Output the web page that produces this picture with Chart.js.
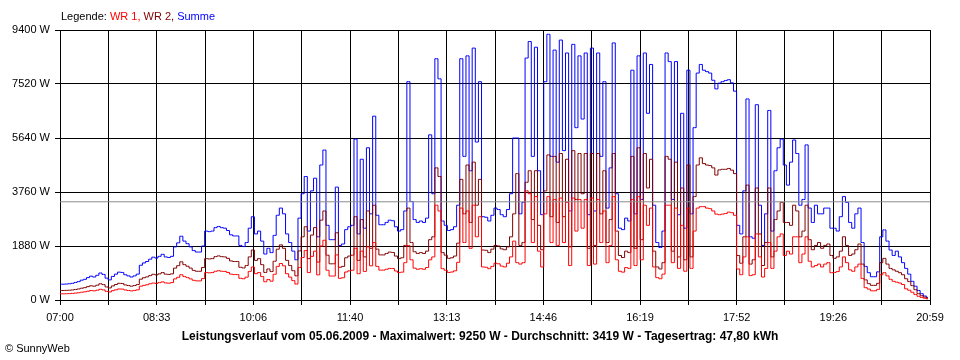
<!DOCTYPE html>
<html><head><meta charset="utf-8">
<script src="https://cdn.jsdelivr.net/npm/chart.js@4.4.1/dist/chart.umd.min.js"></script>
<style>html,body{margin:0;padding:0;background:#fff;}#wrap{width:960px;height:360px;position:relative;}</style>
</head><body><div id="wrap"><canvas id="c" width="960" height="360"></canvas></div>
<script>
// time axis: samples every 3 minutes starting 07:00, day span 07:00-20:59 (839 min)
const STEP_MINUTES = 3;
const DAY_MINUTES = 839;
const timeLabels = ['07:00','08:33','10:06','11:40','13:13','14:46','16:19','17:52','19:26','20:59'];
const yTicks = [0,1880,3760,5640,7520,9400];
const average = 3419;

const summe = [
550,550,555,565,580,610,640,690,720,780,
830,800,860,940,890,760,700,820,900,970,
960,880,840,800,840,900,1210,1290,1340,1420,
1490,1460,1520,1590,1500,1480,1520,1850,1990,2220,
2050,1960,1850,1720,1670,1670,1880,2400,2380,2400,
2520,2560,2520,2500,2420,2270,2230,2230,1900,1860,
2000,2500,2900,2300,2400,2050,1600,1800,1650,2250,
2950,3200,3000,2300,2000,1700,1400,2850,3700,4300,
2400,3800,4240,2200,4700,5220,2600,2100,2100,3930,
1900,1950,2450,2550,2600,5600,2300,4900,2500,5300,
3000,6400,2950,2620,2620,2700,2780,2760,2550,2400,
2450,3100,7600,3430,2800,2700,2750,2700,2850,5750,
3700,8400,7700,2750,2600,2420,2450,2550,3300,8400,
5000,8500,4500,8770,5500,7600,2900,2880,2750,2950,
3200,3150,2970,2900,3150,3700,5640,5640,3000,3400,
8424,9000,5000,8800,4500,2970,7600,9250,5000,8700,
4800,9050,5200,8600,3100,8900,6000,8500,6300,8600,
2970,8770,3100,8600,5000,7600,3200,4600,8950,3700,
2500,2450,2850,2750,8000,3000,8500,3500,8600,6500,
8200,3300,2000,1830,2400,8600,8300,3500,8300,2970,
6500,2500,8000,3000,6000,7900,8200,8000,7950,7900,
7650,7350,7550,7600,7640,7670,7560,7270,2600,2300,
3800,7000,2200,2150,6800,3300,1900,3000,6600,2400,
4500,5300,5600,4700,4000,4800,5570,5100,3300,3500,
5400,3200,2700,3300,3000,3000,3200,3200,2500,2500,
2400,2900,3600,3400,2700,2500,3000,3200,2000,1170,
950,810,810,980,2200,2440,2050,1740,1550,1700,
1500,1300,1100,900,650,480,330,220,140,90
];

const wr2 = [
330,330,335,340,350,365,385,410,430,465,
495,480,515,565,535,455,420,490,540,580,
575,525,505,480,505,540,725,775,805,850,
895,875,910,955,900,890,910,1110,1195,1330,
1230,1175,1110,1030,1000,1000,1130,1440,1430,1440,
1510,1535,1510,1500,1450,1360,1340,1340,1140,1115,
1200,1500,1740,1380,1440,1230,960,1080,990,1350,
1770,1920,1800,1380,1200,1020,840,1710,2200,2550,
1440,2260,2520,1320,2780,3100,1560,1260,1260,2340,
1140,1170,1470,1530,1560,2900,1380,2800,1500,3100,
1800,3300,1770,1570,1570,1620,1670,1655,1530,1440,
1470,1900,3200,2000,1680,1620,1650,1620,1700,2100,
2200,4600,4300,1650,1560,1450,1470,1530,1980,4200,
3000,4700,2700,4800,3300,4200,1740,1730,1650,1770,
1900,1880,1780,1750,1850,2200,3000,4400,1900,2000,
4100,4500,2800,4500,2600,1750,3800,5050,2900,5000,
2700,5100,2900,4900,1850,5200,3500,5100,3700,5100,
1800,5100,1900,5100,3000,4500,2000,2800,5100,2400,
1550,1480,1700,1650,5000,1800,5300,2100,5100,3900,
4900,1700,1150,1080,1300,5000,4900,1700,4800,1500,
3900,1400,4700,1500,3600,4700,4950,4750,4700,4680,
4600,4350,4530,4550,4550,4580,4520,4400,1550,1280,
2200,4000,1250,1400,3900,2300,1200,2000,3900,1500,
2800,3100,3400,2700,2700,2600,3300,3100,2200,2400,
3300,2100,1750,1900,2000,1800,1900,1950,1550,1450,
1500,1700,2200,1900,1550,1600,1750,1950,1250,700,
570,510,510,580,1300,1450,1250,1100,1050,1000,
950,880,740,640,500,360,220,150,100,60
];

const wr1 = [
215,215,218,222,228,240,252,270,285,305,
330,318,340,372,352,300,278,325,355,385,
380,350,332,318,332,355,480,510,530,565,
590,580,605,630,595,585,605,735,790,880,
815,780,735,685,665,665,745,955,945,955,
1000,1020,1000,995,960,900,885,885,755,740,
795,995,1150,915,955,815,635,715,655,895,
1170,1270,1190,915,795,675,555,1130,1480,1720,
955,1520,1700,875,1880,2080,1035,835,835,1570,
755,775,975,1015,1035,1800,915,1700,995,1850,
1190,2000,1170,1040,1040,1070,1100,1095,1010,955,
970,1300,1900,1400,1110,1070,1090,1070,1130,1400,
1500,3300,3100,1090,1035,960,975,1015,1310,3200,
2000,3100,1800,3300,2200,2900,1150,1140,1090,1170,
1280,1260,1180,1150,1280,1500,2050,1300,1250,1300,
3800,3700,2000,3600,1700,1150,3000,3600,2000,3500,
1900,3550,2000,3400,1200,3550,2400,3500,2500,3500,
1200,3550,1250,3500,2000,3100,1300,1900,3600,1400,
1000,970,1130,1100,3500,1200,3600,1400,3300,2600,
3200,1150,780,740,900,3300,3300,1300,3200,1100,
2600,1000,3200,1100,2400,3200,3250,3250,3200,3180,
3100,2990,2970,2990,3010,3060,3040,2950,1080,880,
1500,2200,850,880,2300,1500,800,1100,2000,1100,
1700,2200,2300,1550,1700,1600,2200,2200,1300,1600,
2200,1350,1150,1200,1250,1150,1250,1300,950,960,
990,1150,1500,1300,1050,1000,1150,1250,750,430,
380,320,320,370,880,950,840,720,650,620,
590,540,390,340,270,190,130,90,60,40
];

const legendParts = [['Legende: ','#000000'],['WR 1, ','#ff0000'],['WR 2, ','#800000'],['Summe','#0000ff']];
const titleText = 'Leistungsverlauf vom 05.06.2009 - Maximalwert: 9250 W - Durchschnitt: 3419 W - Tagesertrag: 47,80 kWh';
const creditText = '\u00A9 SunnyWeb';

const FONT = '"Liberation Sans", Arial, sans-serif';
const toPts = arr => arr.map((v, i) => ({x: i * STEP_MINUTES, y: v}));
const xTickValues = Array.from({length: 19}, (_, k) => k * DAY_MINUTES / 18);

const textPlugin = {
  id: 'texts',
  afterDraw(chart) {
    const ctx = chart.ctx;
    ctx.save();
    ctx.textBaseline = 'middle';
    ctx.textAlign = 'left';
    ctx.font = '11px ' + FONT;
    let x = 61;
    for (const [t, c] of legendParts) {
      ctx.fillStyle = c;
      ctx.fillText(t, x, 17);
      x += ctx.measureText(t).width;
    }
    ctx.fillStyle = '#000';
    ctx.font = 'bold 12px ' + FONT;
    ctx.textAlign = 'center';
    ctx.fillText(titleText, 480, 337);
    ctx.textAlign = 'left';
    ctx.font = '11px ' + FONT;
    ctx.fillText(creditText, 5, 349);
    ctx.restore();
  }
};

const lineDs = (label, arr, color) => ({
  label, data: toPts(arr), borderColor: color, backgroundColor: color,
  borderWidth: 1, pointRadius: 0, stepped: 'middle', fill: false
});

new Chart(document.getElementById('c'), {
  type: 'line',
  data: {
    datasets: [
      {label: 'Durchschnitt', data: [{x: 0, y: average}, {x: DAY_MINUTES, y: average}],
       borderColor: '#8c8c8c', borderWidth: 1, pointRadius: 0, fill: false},
      lineDs('WR 1', wr1, '#ff0000'),
      lineDs('WR 2', wr2, '#800000'),
      lineDs('Summe', summe, '#0000ff')
    ]
  },
  options: {
    responsive: false,
    animation: false,
    devicePixelRatio: 1,
    layout: {padding: {top: 30, right: 30, left: 0, bottom: 0}},
    plugins: {legend: {display: false}, tooltip: {enabled: false}, title: {display: false}},
    scales: {
      x: {
        type: 'linear', min: 0, max: DAY_MINUTES, z: 1,
        afterBuildTicks: s => { s.ticks = xTickValues.map(v => ({value: v})); },
        afterFit: s => { s.height = 60; },
        grid: {color: '#000', lineWidth: 1, tickLength: 5, drawTicks: true},
        border: {color: '#000', width: 1},
        ticks: {autoSkip: false, maxRotation: 0, minRotation: 0, padding: 6, color: '#000',
                font: {family: FONT, size: 11},
                callback: (v, i) => (i % 2 === 0 ? timeLabels[i / 2] : '')}
      },
      y: {
        min: 0, max: 9400, z: 1,
        afterBuildTicks: s => { s.ticks = yTicks.map(v => ({value: v})); },
        afterFit: s => { s.width = 60; },
        grid: {color: '#000', lineWidth: 1, tickLength: 5, drawTicks: true},
        border: {color: '#000', width: 1},
        ticks: {padding: 5, color: '#000', font: {family: FONT, size: 11},
                callback: v => v + ' W'}
      }
    }
  },
  plugins: [textPlugin]
});
</script></body></html>
